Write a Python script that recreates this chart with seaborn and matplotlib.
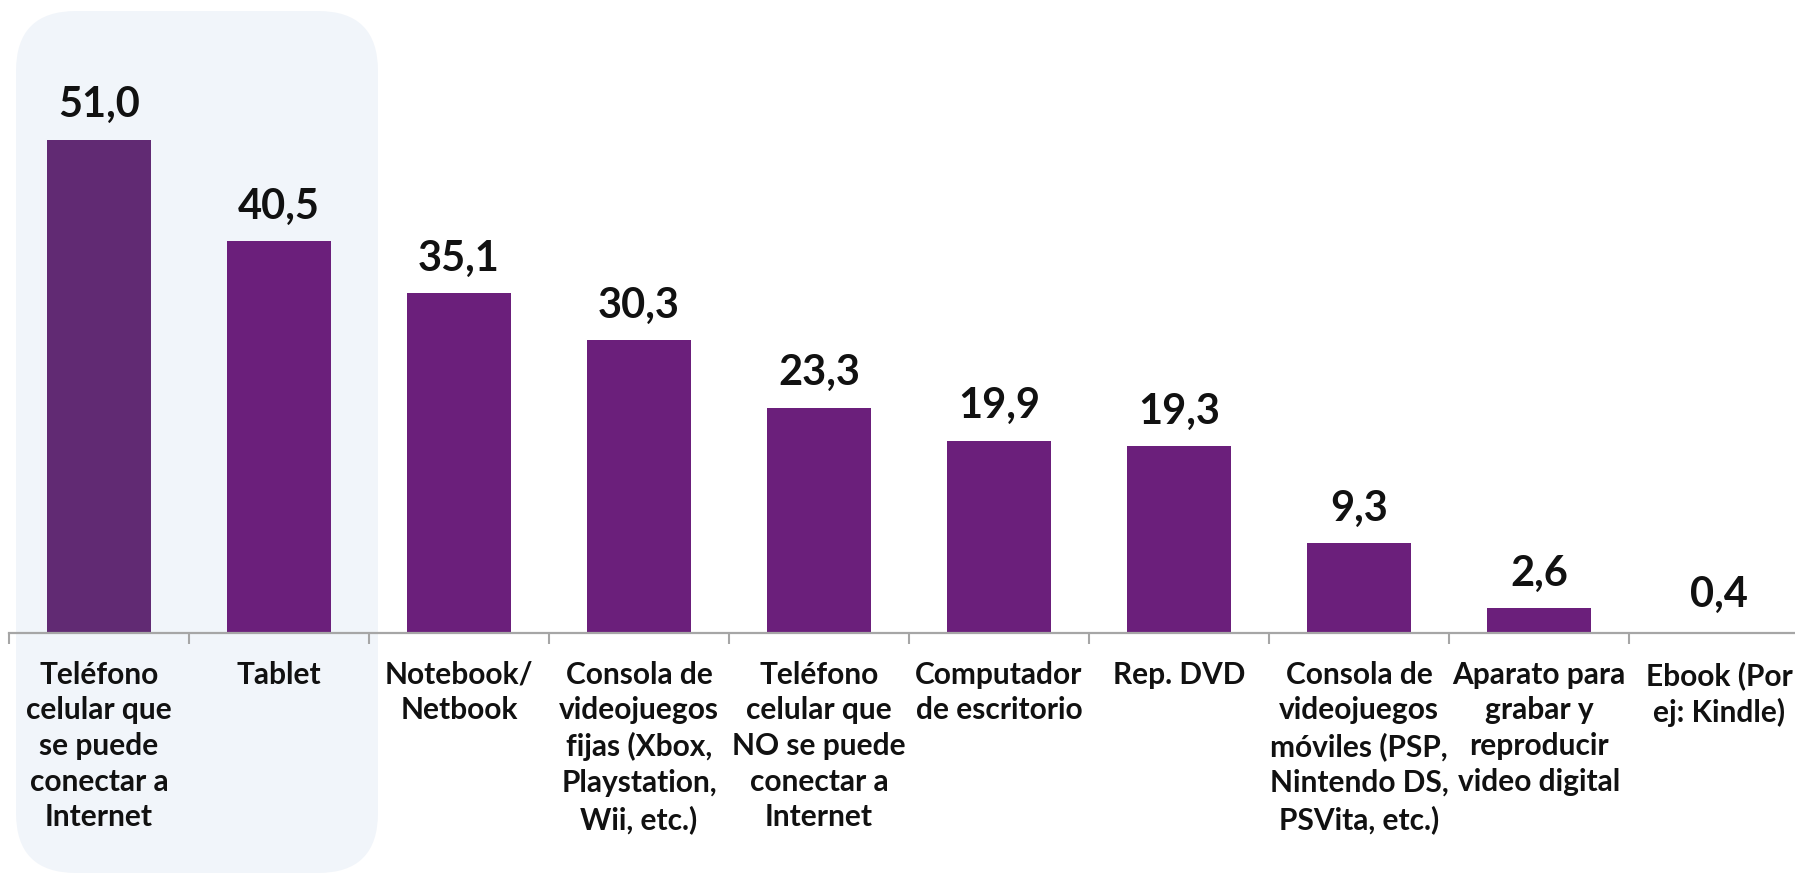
import matplotlib
matplotlib.use("Agg")
import matplotlib.pyplot as plt
import seaborn as sns
import pandas as pd
from matplotlib.patches import FancyBboxPatch

categories = [
    "Teléfono\ncelular que\nse puede\nconectar a\nInternet",
    "Tablet",
    "Notebook/\nNetbook",
    "Consola de\nvideojuegos\nfijas (Xbox,\nPlaystation,\nWii, etc.)",
    "Teléfono\ncelular que\nNO se puede\nconectar a\nInternet",
    "Computador\nde escritorio",
    "Rep. DVD",
    "Consola de\nvideojuegos\nmóviles (PSP,\nNintendo DS,\nPSVita, etc.)",
    "Aparato para\ngrabar y\nreproducir\nvideo digital",
    "Ebook (Por\nej: Kindle)",
]
values = [51.0, 40.5, 35.1, 30.3, 23.3, 19.9, 19.3, 9.3, 2.6, 0.4]
bar_colors = ["#612A73"] + ["#6B1F7B"] * 8 + ["#FFFFFF"]

sns.set_theme(style="white")
plt.rcParams["font.family"] = ["Lato", "DejaVu Sans"]

W, H, DPI = 1795, 874, 100
fig = plt.figure(figsize=(W / DPI, H / DPI), dpi=DPI)
fig.patch.set_facecolor("white")

# highlight rounded panel behind the first category
panel = FancyBboxPatch((0.16, 0.01), 3.62, 8.62,
                       boxstyle="round,pad=0,rounding_size=0.6",
                       transform=fig.dpi_scale_trans,
                       facecolor="#F1F5FA", edgecolor="none", zorder=0)
fig.add_artist(panel)

ax_left = 9 / W
ax_width = 1800 / W
ax_bottom = (H - 633) / H
ax_height = (633 - 101) / H
ax = fig.add_axes([ax_left, ax_bottom, ax_width, ax_height])
ax.set_facecolor("none")
ax.set_zorder(1)

df = pd.DataFrame({"cat": categories, "val": values})
sns.barplot(data=df, x="cat", y="val", hue="cat", palette=bar_colors,
            legend=False, width=0.58, saturation=1, ax=ax, edgecolor="none")

ax.set_xlim(-0.5, len(categories) - 0.5)
ax.set_ylim(0, 55)

for i, v in enumerate(values):
    ax.annotate(f"{v:.1f}".replace(".", ","), (i, v), xytext=(0, 11),
                textcoords="offset points", ha="center", va="bottom",
                fontsize=30, fontweight="bold", color="#111111")

ax.set_xlabel("")
ax.set_ylabel("")
ax.set_yticks([])
for s in ["top", "left", "right"]:
    ax.spines[s].set_visible(False)
ax.spines["bottom"].set_color("#A6A6A6")
ax.spines["bottom"].set_linewidth(1.6)

ax.set_xticks(range(len(categories)))
ax.set_xticklabels(categories, fontsize=21.5, fontweight="bold",
                   color="#111111", linespacing=1.33)
ax.tick_params(axis="x", which="major", length=0, pad=20)
ax.set_xticks([i + 0.5 for i in range(-1, len(categories))], minor=True)
ax.tick_params(axis="x", which="minor", length=8, width=1.5,
               color="#A6A6A6", direction="out", bottom=True)

fig.savefig("out.png", dpi=DPI)
